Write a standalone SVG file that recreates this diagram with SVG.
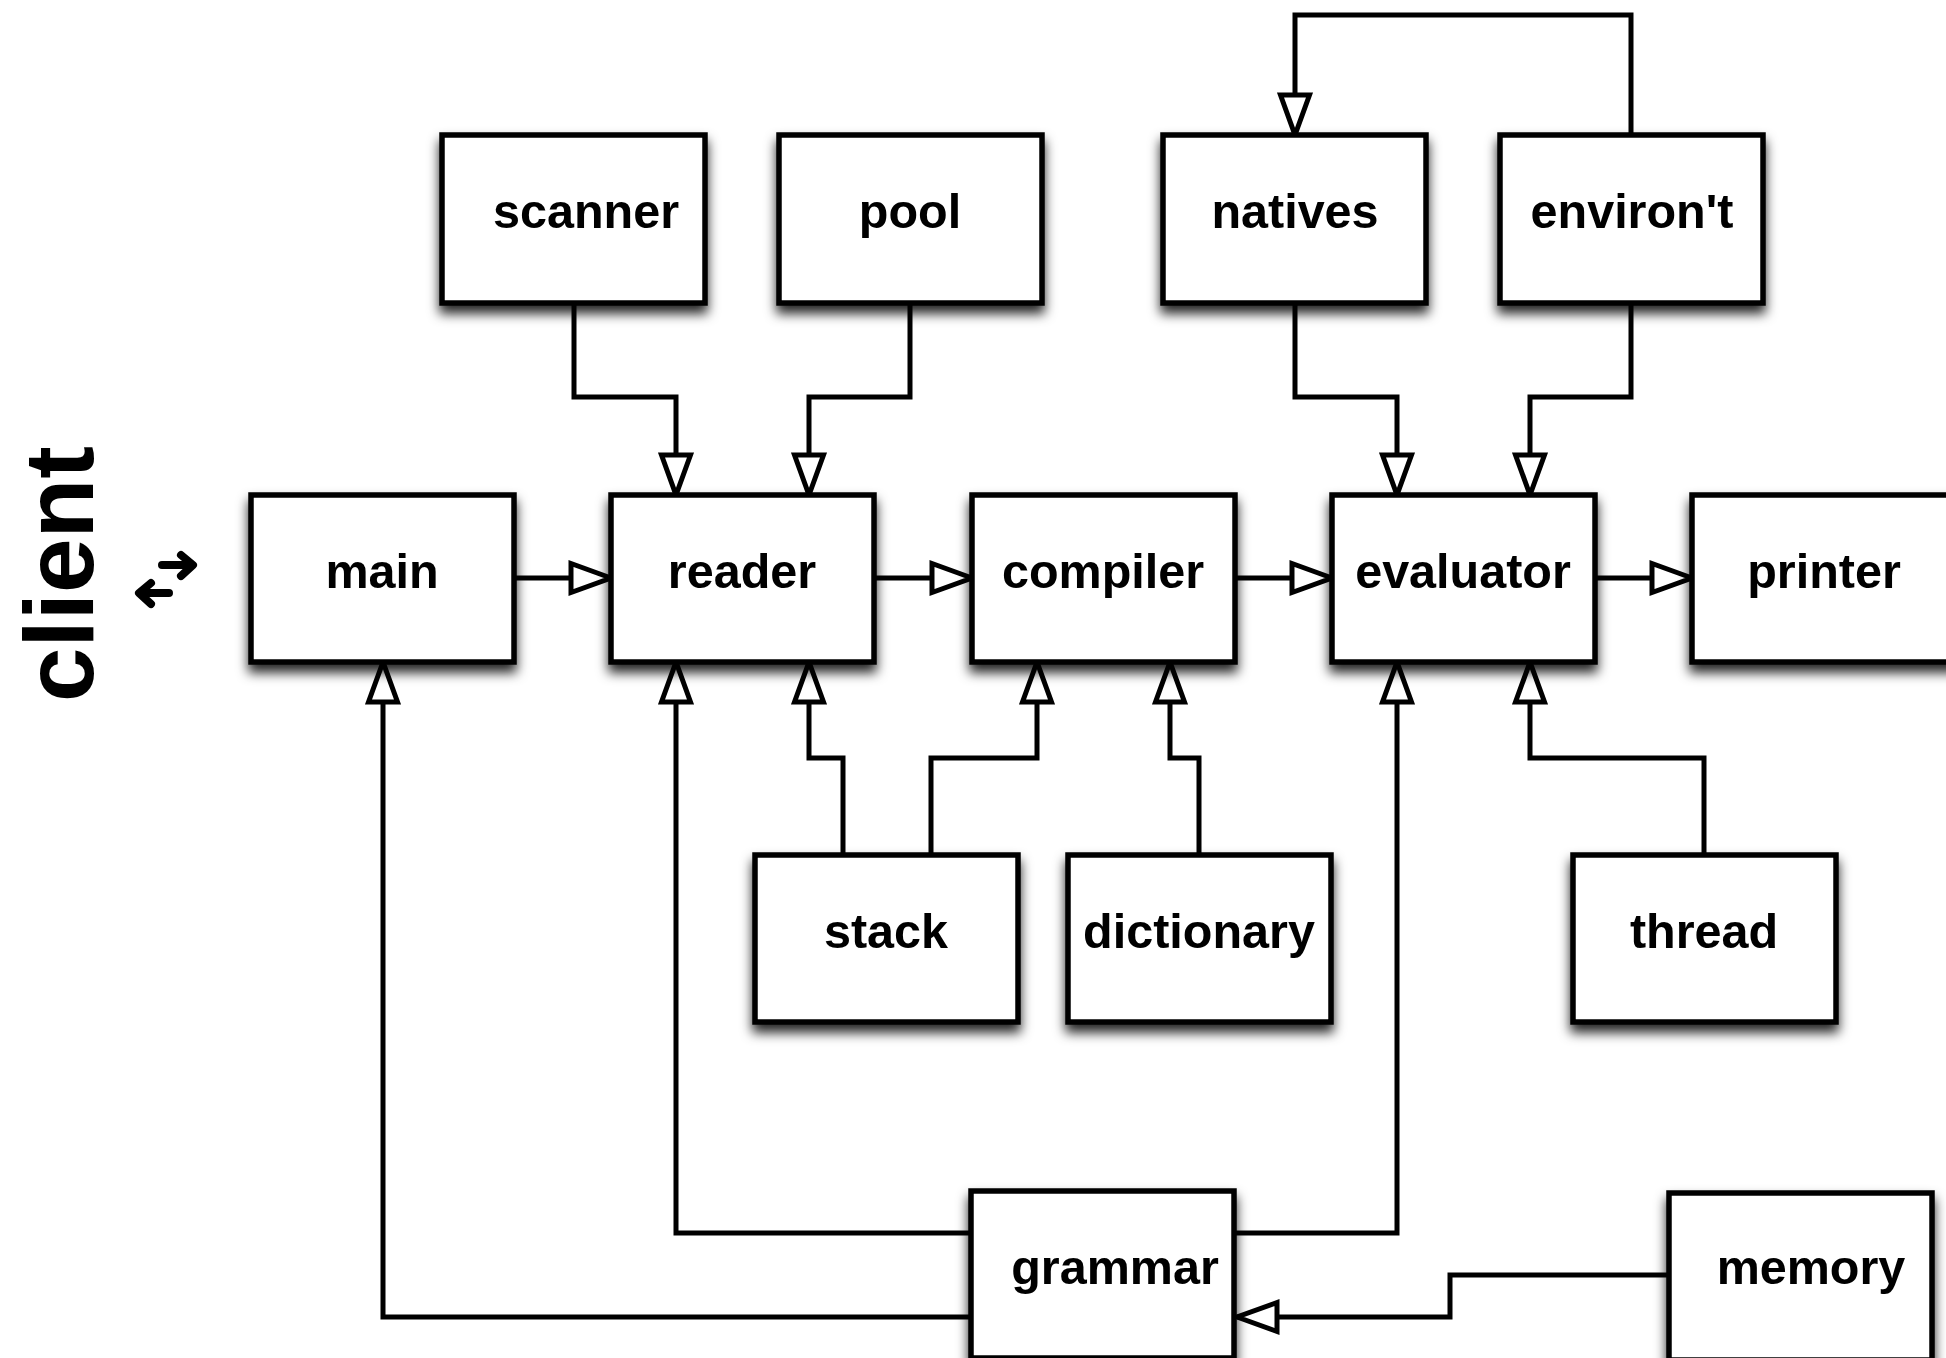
<svg xmlns="http://www.w3.org/2000/svg" width="1946" height="1358" viewBox="0 0 1946 1358">
<style>
.box{fill:#fff;stroke:#000;stroke-width:5.5;filter:url(#sh)}
.lbl{font-family:"Liberation Sans",Arial,Helvetica,sans-serif;font-weight:bold;font-size:48.5px;fill:#000;text-anchor:middle}
.con{fill:none;stroke:#000;stroke-width:5;stroke-linejoin:miter;stroke-linecap:butt;marker-end:url(#ah)}
.sym{fill:none;stroke:#000;stroke-width:8;stroke-linecap:round;stroke-linejoin:round}
</style>
<defs>
<filter id="sh" x="-10%" y="-10%" width="125%" height="145%">
<feDropShadow dx="0" dy="8" stdDeviation="6" flood-color="#000" flood-opacity="0.85"/>
</filter>
<marker id="ah" markerUnits="userSpaceOnUse" viewBox="-50 -20 56 40" refX="0" refY="0" markerWidth="56" markerHeight="40" orient="auto">
<path d="M0,0 L-40,-14.5 L-40,14.5 Z" fill="#fff" stroke="#000" stroke-width="5"/>
</marker>
</defs>
<rect width="1946" height="1358" fill="#fff"/>

<g id="client-label">
<text class="lbl" style="font-size:98px" transform="translate(93,574) rotate(-90)">client</text>
<path class="sym" d="M162,565 H192 M181,555 L193,565 L181,576"/>
<path class="sym" d="M169,593 H140 M151,583 L139,593 L151,604"/>
</g>

<g id="connectors">
<path class="con" d="M574,304 V397 H676 V495"/>
<path class="con" d="M910,304 V397 H809 V495"/>
<path class="con" d="M1295,304 V397 H1397 V495"/>
<path class="con" d="M1631,304 V397 H1530 V495"/>
<path class="con" d="M1631,133 V15 H1295 V135"/>
<path class="con" d="M515,578 H611"/>
<path class="con" d="M875,578 H972"/>
<path class="con" d="M1236,578 H1332"/>
<path class="con" d="M1597,578 H1692"/>
<path class="con" d="M843,853 V758 H809 V662"/>
<path class="con" d="M931,853 V758 H1037 V662"/>
<path class="con" d="M1199,853 V758 H1170 V662"/>
<path class="con" d="M1704,853 V758 H1530 V662"/>
<path class="con" d="M969,1233 H676 V662"/>
<path class="con" d="M969,1317 H383 V662"/>
<path class="con" d="M1236,1233 H1397 V662"/>
<path class="con" d="M1667,1275 H1450 V1317 H1237"/>
</g>

<g id="scanner"><rect class="box" x="442" y="135" width="263" height="168"/><text class="lbl" x="586" y="228">scanner</text></g>
<g id="pool"><rect class="box" x="779" y="135" width="263" height="168"/><text class="lbl" x="910" y="228">pool</text></g>
<g id="natives"><rect class="box" x="1163" y="135" width="263" height="168"/><text class="lbl" x="1295" y="228">natives</text></g>
<g id="environ-t"><rect class="box" x="1500" y="135" width="263" height="168"/><text class="lbl" x="1632" y="228">environ't</text></g>

<g id="main"><rect class="box" x="251" y="495" width="263" height="167"/><text class="lbl" x="382" y="588">main</text></g>
<g id="reader"><rect class="box" x="611" y="495" width="263" height="167"/><text class="lbl" x="742" y="588">reader</text></g>
<g id="compiler"><rect class="box" x="972" y="495" width="263" height="167"/><text class="lbl" x="1103" y="588">compiler</text></g>
<g id="evaluator"><rect class="box" x="1332" y="495" width="263" height="167"/><text class="lbl" x="1463" y="588">evaluator</text></g>
<g id="printer"><rect class="box" x="1692" y="495" width="263" height="167"/><text class="lbl" x="1824" y="588">printer</text></g>

<g id="stack"><rect class="box" x="755" y="855" width="263" height="167"/><text class="lbl" x="886" y="948">stack</text></g>
<g id="dictionary"><rect class="box" x="1068" y="855" width="263" height="167"/><text class="lbl" x="1199" y="948">dictionary</text></g>
<g id="thread"><rect class="box" x="1573" y="855" width="263" height="167"/><text class="lbl" x="1704" y="948">thread</text></g>

<g id="grammar"><rect class="box" x="971" y="1191" width="263" height="167"/><text class="lbl" x="1115" y="1284">grammar</text></g>
<g id="memory"><rect class="box" x="1669" y="1193" width="263" height="167"/><text class="lbl" x="1811" y="1284">memory</text></g>
</svg>
